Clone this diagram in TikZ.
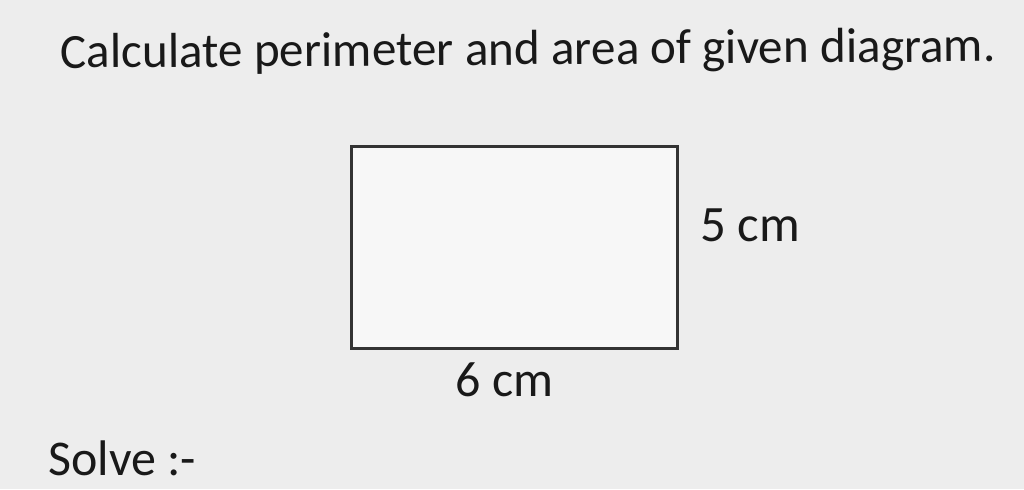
\documentclass[tikz,border=0pt]{standalone}
\usepackage{fontspec}
\setmainfont{Carlito}
\begin{document}
\begin{tikzpicture}[x=0.5pt,y=-0.5pt,
  txt/.style={inner sep=0pt,anchor=base west,text=black!90},
  box/.style={draw=black!80,line width=1.3pt}]
\fill[black!7] (0,0) rectangle (1024,489);
\useasboundingbox (0,0) rectangle (1024,489);
\node[txt,font=\fontsize{24.6}{28}\selectfont,rotate=0.4] (title) at (60,68) {Calculate perimeter and area of given diagram.};
\node[box,minimum width=163pt,minimum height=101pt,inner sep=0pt,anchor=north west,fill=black!3] (rect) at (350,145) {};
\node[txt,font=\fontsize{25.5}{30}\selectfont] (h) at (700,241) {5 cm};
\node[txt,font=\fontsize{25}{30}\selectfont] (w) at (455,396) {6 cm};
\node[txt,font=\fontsize{25}{30}\selectfont] (solve) at (48,475) {Solve :-};
\end{tikzpicture}
\end{document}
